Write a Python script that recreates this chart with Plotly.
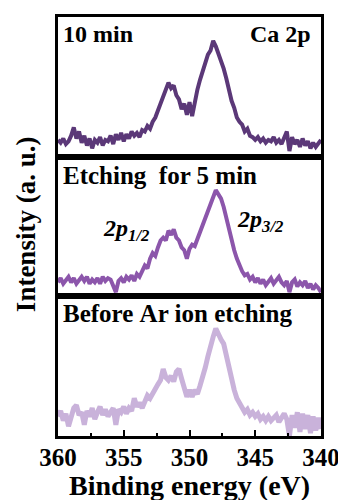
import plotly.graph_objects as go
from plotly.subplots import make_subplots

# Binding energy grid (eV), 360 -> 340 in 0.2 eV steps (101 points)
energy = [round(360.0 - 0.2 * i, 1) for i in range(101)]

# Intensities (a. u.), each panel on its own 0-100 scale
int_10min = [12, 10, 13, 9, 11, 15, 21, 13, 18, 10,
             15, 8, 13, 6, 12, 10, 14, 8, 12, 11,
             15, 9, 16, 12, 17, 11, 16, 13, 18, 15,
             17, 14, 19, 18, 22, 20, 25, 28, 33, 38,
             44, 47, 53, 49, 51, 44, 41, 34, 38, 30,
             39, 29, 40, 48, 55, 61, 67, 73, 76, 83,
             79, 74, 68, 63, 56, 47, 40, 35, 28, 25,
             23, 18, 20, 15, 14, 12, 14, 11, 13, 10,
             12, 11, 14, 10, 12, 9, 13, 18, 4, 14,
             9, 12, 7, 13, 8, 11, 6, 10, 7, 9,
             12]

int_5min = [10, 13, 9, 12, 14, 10, 13, 9, 12, 14,
            11, 14, 9, 12, 10, 13, 9, 14, 11, 13,
            12, 8, 3, 11, 13, 10, 14, 12, 15, 11,
            16, 14, 18, 22, 20, 27, 31, 29, 35, 40,
            42, 40, 47, 44, 48, 42, 40, 35, 33, 27,
            34, 37, 36, 41, 47, 52, 58, 63, 68, 73,
            76, 73, 70, 64, 56, 47, 40, 33, 27, 22,
            18, 15, 16, 12, 14, 10, 13, 9, 12, 8,
            11, 13, 9, 12, 14, 10, 8, 11, 3, 10,
            12, 7, 10, 8, 11, 6, 9, 5, 8, 6,
            3]

int_before = [14, 18, 11, 16, 7, 13, 20, 22, 15, 17,
              8, 18, 14, 20, 12, 17, 21, 15, 19, 14,
              18, 20, 8, 19, 17, 21, 16, 20, 18, 27,
              21, 24, 20, 25, 29, 27, 31, 34, 37, 40,
              48, 42, 40, 43, 39, 46, 48, 41, 33, 28,
              33, 28, 33, 30, 36, 42, 49, 57, 65, 71,
              77, 72, 69, 66, 57, 47, 39, 33, 27, 23,
              20, 17, 19, 15, 17, 14, 16, 12, 14, 11,
              14, 11, 13, 15, 10, 13, 16, 12, 0, 15,
              6, 17, 3, 16, 5, 15, 2, 14, 4, 13,
              5]

x_ticks = [360, 355, 350, 345, 340]
panel_labels = ["10 min", "Etching\u00a0 for 5 min", "Before\u00a0Ar ion etching"]
colors = ["#5b3878", "#8c56ab", "#c9b2da"]
widths = [4, 4, 5]

FONT = "Liberation Serif"

# the page body has an 8px default margin; compensate so the chart sits where
# the reference has it inside the 346x500 window
OFF = 8
WIN_W, WIN_H = 346, 500
W, H = WIN_W - OFF, WIN_H - OFF

# reference plot-area edges in window pixels
PL, PR, PT, PB = 58, 326, 14, 436
L, T = PL - OFF, PT - OFF
R = W - (PR - OFF)
B = H - (PB - OFF)
pw, ph = W - L - R, H - T - B

fig = make_subplots(rows=3, cols=1, shared_xaxes=True, vertical_spacing=0)

series = [int_10min, int_5min, int_before]
for i, ys in enumerate(series):
    fig.add_trace(go.Scatter(x=energy, y=ys, mode="lines",
                             line=dict(color=colors[i], width=widths[i]),
                             showlegend=False, hoverinfo="skip"),
                  row=i + 1, col=1)

for i in range(3):
    r = i + 1
    is_bottom = (r == 3)
    fig.update_xaxes(row=r, col=1, range=[360, 340], showline=True, mirror=True,
                     linecolor="black", linewidth=3, showgrid=False, zeroline=False,
                     tickvals=x_ticks if is_bottom else [],
                     ticks="inside" if is_bottom else "", ticklen=6, tickwidth=2,
                     tickcolor="black",
                     showticklabels=is_bottom,
                     ticklabelstandoff=-3 if is_bottom else 0,
                     tickfont=dict(family=FONT, size=25, color="black", weight="bold"),
                     minor=dict(ticks="inside", dtick=2.5, ticklen=3, tickwidth=2,
                                tickcolor="black") if is_bottom else dict(ticks=""))
    fig.update_yaxes(row=r, col=1, range=[0, 100], showline=True, mirror=True,
                     linecolor="black", linewidth=3, showgrid=False, zeroline=False,
                     showticklabels=False, ticks="")


def px(xw):
    return (xw - OFF - L) / pw


def py(yw):
    return (H - B - (yw - OFF)) / ph


ann = []
ann.append(dict(text="Intensity (a. u.)", x=px(25), y=py(223), textangle=-90, size=27))
ann.append(dict(text="Binding energy (eV)", x=px(192), y=py(486), size=28))
ann.append(dict(text=panel_labels[0], x=px(61), y=py(31), xanchor="left", size=24))
ann.append(dict(text="Ca 2p", x=px(318), y=py(31), xanchor="right", size=24))
ann.append(dict(text=panel_labels[1], x=px(61), y=py(174), xanchor="left", size=25))
ann.append(dict(text=panel_labels[2], x=px(61), y=py(313), xanchor="left", size=25))
ann.append(dict(text="<i>2p</i><sub><i>1/2</i></sub>", x=px(102), y=py(229),
                xanchor="left", size=24))
ann.append(dict(text="<i>2p</i><sub><i>3/2</i></sub>", x=px(238), y=py(219),
                xanchor="left", size=24))

for a in ann:
    size = a.pop("size")
    fig.add_annotation(xref="paper", yref="paper", showarrow=False,
                       yanchor="middle", xanchor=a.pop("xanchor", "center"),
                       font=dict(family=FONT, color="black", weight="bold", size=size),
                       **a)

fig.update_layout(width=W, height=H, margin=dict(l=L, r=R, t=T, b=B),
                  paper_bgcolor="white", plot_bgcolor="white")

fig.write_html("out.html")
